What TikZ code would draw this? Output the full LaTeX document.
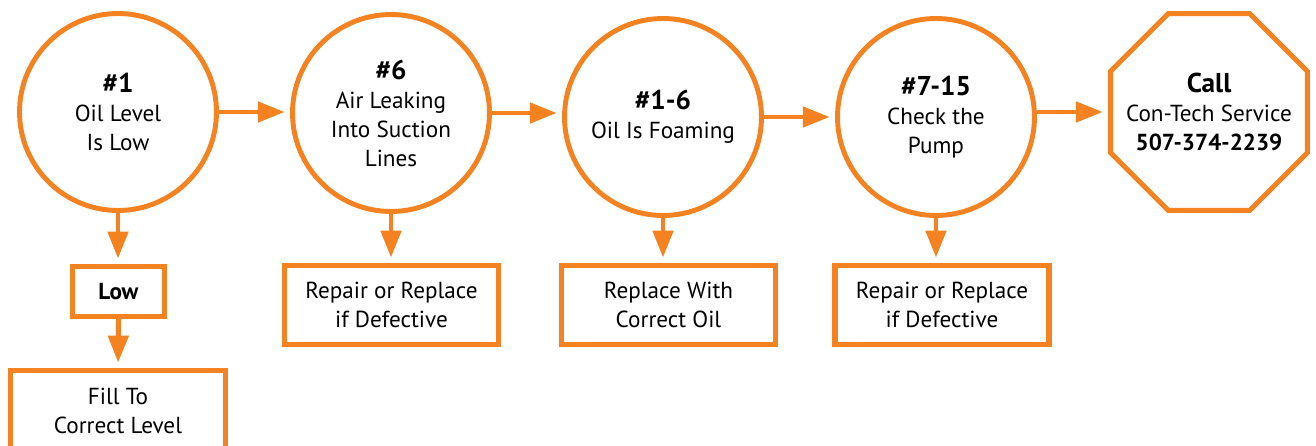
\documentclass[tikz,border=0pt]{standalone}
\usepackage{fontspec}
\setmainfont{PT Sans}
\usetikzlibrary{arrows.meta,shapes.geometric}
\definecolor{narandza}{HTML}{F58220}
\tikzset{
  tekst/.style={align=center,font=\fontsize{13.2}{16.5}\selectfont},
  krug/.style={tekst,circle,draw=narandza,line width=2.8pt,minimum size=3.94cm,inner sep=0pt},
  znak/.style={regular polygon,regular polygon sides=8,draw=narandza,
               line width=2.8pt,minimum size=4.26cm,inner sep=0pt},
  kutija/.style={tekst,draw=narandza,line width=3pt,inner sep=0pt},
  str/.style={-{Triangle[length=5.4mm,width=4mm]},line width=2.8pt,draw=narandza,
              shorten >=3pt},
}
\newcommand{\naslov}[1]{{\fontsize{15.5}{17}\selectfont\bfseries #1}}

\begin{document}
\begin{tikzpicture}[x=0.02cm,y=-0.02cm]
  \useasboundingbox (0,0) rectangle (1316,446);
  \clip (0,0) rectangle (1316,446);

  % ---------- KORACI ----------
  \node[krug] (c1) at (118,112) {\naslov{\#1}\\Oil Level\\Is Low};
  \node[krug] (c2) at (391,113) {\naslov{\#6}\\Air Leaking\\Into Suction\\Lines};
  \node[krug] (c3) at (663,117) {\naslov{\#1-6}\\Oil Is Foaming};
  \node[krug] (c4) at (936,117) {\naslov{\#7-15}\\Check the\\Pump};
  \node[znak,label={[tekst]center:{\naslov{Call}\\Con-Tech Service\\\textbf{507-374-2239}}}]
       (call) at (1209,112) {};

  \draw[str] (c1.east) -- (c1.east -| c2.west);
  \draw[str] (c2.east) -- (c2.east -| c3.west);
  \draw[str] (c3.east) -- (c3.east -| c4.west);
  \draw[str] (c4.east |- call.west) -- (call.west);

  % ---------- POPRAVKE ----------
  \node[kutija,minimum width=1.84cm,minimum height=1.0cm] (low) at (118.5,291.5)
       {\textbf{Low}};
  \node[kutija,minimum width=4.3cm,minimum height=1.62cm] (fill) at (118,411)
       {Fill To\\Correct Level};
  \foreach \i/\x/\txt in {2/391.5/{Repair or Replace\\if Defective},
                          3/668.5/{Replace With\\Correct Oil},
                          4/942/{Repair or Replace\\if Defective}}
  {
    \node[kutija,minimum width=4.28cm,minimum height=1.58cm] (b\i) at (\x,305) {\txt};
    \draw[str] (c\i.south) -- (c\i.south |- b\i.north);
  }

  \draw[str] (c1.south) -- (c1.south |- low.north);
  \draw[str] (low.south) -- (fill.north);

\end{tikzpicture}
\end{document}
